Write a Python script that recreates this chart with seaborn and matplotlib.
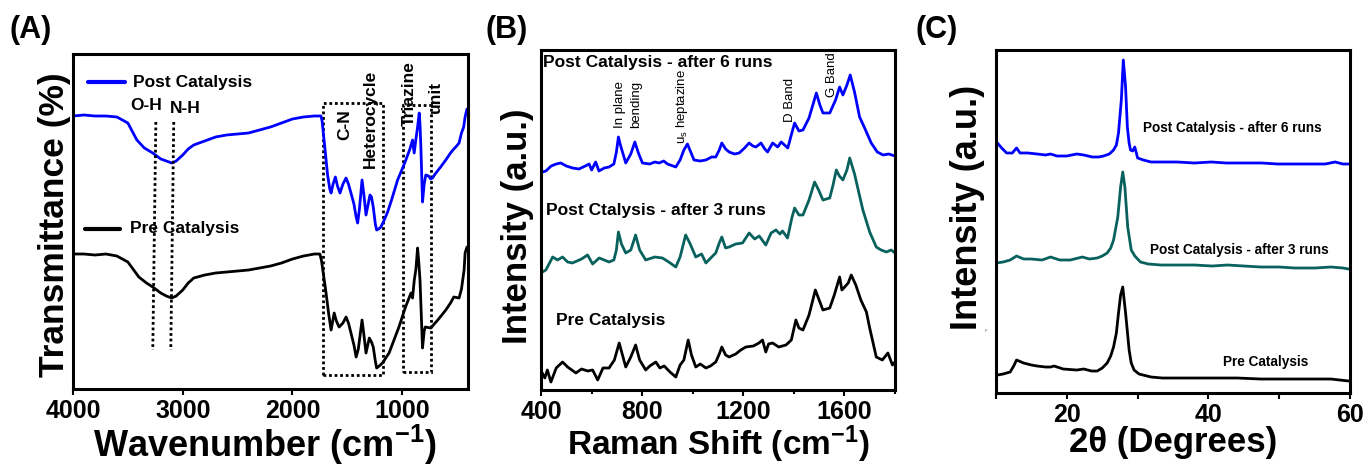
import numpy as np
import pandas as pd
import matplotlib
matplotlib.use("Agg")
import matplotlib.pyplot as plt
import matplotlib.patches as mpatches
import seaborn as sns

# ---------------- DATA ----------------
# Panel A: FTIR (wavenumber, cm-1) - relative transmittance (offset, arbitrary units)
ftir_post_wn = [4000, 3900, 3800, 3700, 3600, 3500, 3418, 3350, 3273, 3200, 3150, 3100, 3060, 3000,
                2950, 2900, 2800, 2700, 2600, 2500, 2400, 2300, 2200, 2100, 2000, 1900, 1800, 1740,
                1730, 1700, 1680, 1660, 1648, 1630, 1609, 1590, 1567, 1540, 1512, 1490, 1467, 1440,
                1420, 1406, 1390, 1366, 1350, 1330, 1310, 1294, 1280, 1264, 1245, 1233, 1215, 1194,
                1160, 1133, 1100, 1042, 1000, 967, 930, 906, 891, 875, 860, 845, 838, 830, 815, 800,
                785, 760, 740, 724, 700, 650, 603, 560, 530, 512, 482, 460, 440, 427, 410]
ftir_post_t = [273, 274, 273, 273, 272, 266, 249, 241, 236, 230, 228, 226, 228, 234,
               240, 244, 248, 252, 254, 255, 256, 259, 262, 266, 270, 272, 273, 273,
               268, 236, 214, 200, 196, 205, 212, 203, 196, 205, 211, 205, 196, 185,
               172, 166, 180, 209, 195, 174, 185, 194, 192, 182, 165, 159, 160, 162,
               170, 177, 188, 209, 220, 229, 240, 249, 236, 250, 262, 276, 265, 242, 187, 205,
               214, 213, 210, 211, 215, 222, 229, 236, 240, 242, 246, 256, 262, 272, 280]
ftir_pre_wn = [4000, 3900, 3800, 3700, 3600, 3500, 3400, 3330, 3273, 3200, 3150, 3100, 3060, 3000,
               2950, 2900, 2800, 2700, 2600, 2500, 2400, 2300, 2200, 2100, 2000, 1900, 1800, 1750,
               1735, 1694, 1670, 1648, 1620, 1600, 1575, 1540, 1512, 1490, 1467, 1440, 1420, 1400,
               1366, 1350, 1330, 1300, 1280, 1264, 1245, 1233, 1210, 1180, 1120, 1030, 970, 920,
               906, 890, 875, 860, 850, 838, 815, 800, 790, 740, 676, 603, 560, 530, 482, 460,
               436, 427, 410]
ftir_pre_t = [135, 135, 134, 135, 133, 127, 112, 106, 102, 96, 93, 91, 93, 99,
              106, 111, 114, 116, 117, 118, 119, 121, 123, 126, 130, 133, 135, 135,
              128, 96, 75, 59, 76, 68, 62, 66, 72, 66, 56, 44, 32, 40,
              69, 55, 36, 51, 47, 42, 28, 21, 23, 26, 36, 62, 82, 96,
              91, 109, 120, 141, 128, 109, 41, 58, 62, 61, 69, 79, 86, 92, 91, 100,
              119, 136, 142]
oh_line_wn = [3245, 3273]
nh_line_wn = [3082, 3109]
peak_line_t = [267, 39]
cn_box_wn = [1724, 1171]
cn_box_t = [14, 286]
triazine_box_wn = [997, 740]
triazine_box_t = [17, 284]

# Panel B: Raman shift (cm-1) - intensity (offset, arbitrary units)
raman_6_x = [405, 419, 440, 460, 478, 500, 524, 550, 575, 590, 600, 616, 629, 650, 669, 688, 698, 706,
             715, 735, 755, 771, 785, 801, 830, 850, 867, 885, 900, 933, 950, 965, 979, 992, 1005,
             1030, 1052, 1075, 1091, 1105, 1115, 1130, 1144, 1165, 1184, 1205, 1223, 1238, 1250,
             1270, 1285, 1296, 1316, 1336, 1350, 1376, 1392, 1403, 1420, 1436, 1460, 1489, 1503,
             1515, 1542, 1565, 1581, 1594, 1610, 1623, 1640, 1660, 1680, 1706, 1730, 1753, 1775, 1800]
raman_6_y = [218, 219, 224, 226, 227, 224, 222, 221, 224, 226, 220, 228, 219, 222, 223, 226, 238, 253,
             244, 227, 236, 248, 237, 227, 226, 228, 227, 229, 226, 223, 230, 240, 246, 238, 230,
             229, 230, 233, 233, 240, 247, 241, 238, 236, 237, 242, 247, 244, 243,
             247, 241, 238, 247, 243, 248, 242, 257, 267, 259, 260, 272, 297, 285,
             277, 277, 290, 303, 295, 305, 315, 298, 273, 262, 247, 238, 235, 236, 234]
raman_3_x = [405, 419, 446, 465, 485, 505, 524, 560, 584, 604, 630, 669, 688, 698, 706, 718, 735,
             755, 774, 790, 814, 850, 880, 905, 933, 950, 962, 972, 990, 1012, 1035, 1052, 1075,
             1091, 1105, 1115, 1130, 1144, 1170, 1197, 1210, 1223, 1245, 1263, 1289, 1310, 1329,
             1345, 1355, 1375, 1392, 1403, 1420, 1436, 1460, 1482, 1498, 1515, 1542, 1555, 1568,
             1580, 1594, 1610, 1621, 1640, 1673, 1700, 1726, 1745, 1766, 1785, 1800]
raman_3_y = [118, 120, 133, 130, 133, 128, 127, 131, 135, 126, 132, 128, 130, 140, 158, 146, 137,
             140, 155, 140, 130, 133, 132, 128, 123, 133, 145, 155, 146, 133, 136, 127, 133,
             137, 147, 153, 142, 143, 146, 147, 152, 157, 151, 154, 145, 157, 160,
             156, 159, 152, 172, 182, 175, 175, 190, 208, 200, 190, 192, 205, 220,
             214, 210, 220, 232, 216, 180, 158, 143, 140, 138, 140, 137]
raman_pre_x = [405, 415, 425, 439, 460, 485, 505, 538, 560, 585, 604, 624, 645, 669, 690, 709, 722,
               735, 755, 774, 790, 814, 830, 854, 870, 887, 910, 933, 950, 965, 982, 995, 1012,
               1030, 1052, 1070, 1091, 1105, 1115, 1130, 1144, 1170, 1190, 1210, 1240, 1262, 1276,
               1289, 1300, 1316, 1340, 1369, 1390, 1408, 1420, 1436, 1460, 1485, 1500, 1515, 1542,
               1560, 1581, 1590, 1601, 1615, 1627, 1645, 1665, 1687, 1700, 1726, 1750, 1772, 1790, 1800]
raman_pre_y = [17, 12, 20, 8, 22, 28, 23, 17, 21, 19, 20, 10, 22, 22, 30, 47, 35,
               23, 33, 45, 30, 20, 24, 28, 22, 24, 18, 13, 25, 30, 50, 35, 23,
               26, 22, 24, 28, 36, 43, 35, 33, 36, 40, 43, 44, 47, 50,
               38, 46, 47, 43, 45, 50, 70, 62, 60, 75, 100, 90, 80, 82,
               95, 113, 100, 103, 107, 115, 105, 90, 78, 62, 33, 30, 37, 25, 28]

# Panel C: XRD 2-theta (degrees) - intensity (offset, arbitrary units)
xrd_6_x = [10.2, 10.8, 11.5, 12.3, 12.9, 13.4, 14.5, 15.8, 17.0, 17.7, 18.6, 20.0, 21.4, 22.4, 23.6,
           24.5, 25.2, 26.0, 26.6, 27.0, 27.3, 27.7, 27.98, 28.3, 28.55, 28.8, 29.0, 29.3, 29.6,
           30.0, 30.8, 31.9, 33.5, 35.6, 38.0, 40.4, 42.5, 45.1, 47.5, 49.8, 52.0, 54.5, 56.5,
           57.9, 59.0, 59.8]
xrd_6_y = [250, 245, 240, 240, 245, 240, 240, 239, 238, 239, 237, 237, 239, 238, 236,
           236, 237, 239, 243, 248, 260, 293, 333, 306, 266, 250, 243, 242, 246,
           235, 233, 231, 231, 231, 230, 231, 230, 230, 230, 229, 229, 229, 229,
           231, 229, 229]
xrd_3_x = [10.0, 11.0, 12.0, 12.9, 13.9, 15.0, 16.5, 17.7, 19.0, 20.5, 22.2, 23.2, 24.3, 25.0, 25.7,
           26.2, 26.6, 27.2, 27.6, 27.9, 28.2, 28.6, 29.1, 29.6, 30.4, 31.5, 33.3, 35.5, 38.0,
           40.5, 42.7, 45.0, 47.4, 50.0, 52.2, 55.0, 57.3, 59.0, 59.8]
xrd_3_y = [130, 131, 133, 137, 134, 134, 133, 136, 133, 133, 136, 134, 135, 137, 140,
           145, 153, 176, 206, 221, 206, 166, 143, 137, 131, 129, 128, 128, 128,
           127, 128, 127, 126, 126, 125, 125, 126, 125, 124]
xrd_pre_x = [10.2, 11.0, 12.0, 12.5, 12.9, 13.9, 15.0, 15.8, 17.0, 17.7, 18.2, 19.5, 21.4, 22.4,
             23.5, 24.3, 25.0, 25.7, 26.2, 26.6, 27.0, 27.3, 27.6, 27.9, 28.3, 28.6, 28.8, 29.1,
             29.5, 30.2, 31.9, 33.5, 35.6, 38.0, 40.4, 42.5, 44.1, 47.4, 50.0, 52.2, 55.0, 57.3, 59.8]
xrd_pre_y = [18, 19, 21, 27, 33, 30, 28, 27, 26, 26, 27, 24, 23, 24,
             22, 22, 25, 30, 37, 46, 60, 80, 98, 106, 80, 58, 43, 30,
             23, 19, 16, 15, 15, 15, 15, 15, 15, 14, 14, 14, 14, 14, 12]

# ---------------- STYLE ----------------
sns.set_theme(style="white")
plt.rcParams["font.family"] = ["Liberation Sans", "DejaVu Sans"]
plt.rcParams["font.weight"] = "bold"
plt.rcParams["axes.labelweight"] = "bold"
plt.rcParams["text.color"] = "black"
plt.rcParams["axes.labelcolor"] = "black"
plt.rcParams["xtick.color"] = "black"
plt.rcParams["mathtext.fontset"] = "custom"
plt.rcParams["mathtext.rm"] = "Liberation Sans:bold"
plt.rcParams["mathtext.bf"] = "Liberation Sans:bold"
plt.rcParams["mathtext.default"] = "bf"

BLUE = "#0000FF"
TEAL = "#08615C"
BLACK = "#000000"
LW = 2.0

fig = plt.figure(figsize=(13.67, 4.65), dpi=100)
axA = fig.add_axes([0.0534, 0.1634, 0.2890, 0.7205])
axB = fig.add_axes([0.3958, 0.1613, 0.2589, 0.7312])
axC = fig.add_axes([0.7286, 0.1548, 0.2590, 0.7377])


def style_axes(ax):
    for s in ax.spines.values():
        s.set_visible(True)
        s.set_color("black")
        s.set_linewidth(2.2)
    ax.set_yticks([])
    ax.tick_params(axis="x", which="both", direction="out", bottom=True, length=4, width=1.5,
                   labelsize=18, pad=3, colors="black")
    ax.tick_params(axis="x", which="minor", length=3)
    for lab in ax.get_xticklabels():
        lab.set_fontweight("bold")


# ---------------- PANEL A ----------------
dfA = pd.concat([
    pd.DataFrame({"wn": ftir_post_wn, "T": ftir_post_t, "s": "Post Catalysis"}),
    pd.DataFrame({"wn": ftir_pre_wn, "T": ftir_pre_t, "s": "Pre Catalysis"}),
])
sns.lineplot(data=dfA, x="wn", y="T", hue="s", palette={"Post Catalysis": BLUE, "Pre Catalysis": BLACK},
             linewidth=LW, ax=axA, legend=False, estimator=None, sort=True)
axA.set_xlim(4000, 400)
axA.set_ylim(0, 335)
axA.set_xticks([4000, 3000, 2000, 1000])
style_axes(axA)
axA.set_xlabel("Wavenumber (cm$^{-1}$)", fontsize=26, fontweight="bold")
axA.set_ylabel("Transmittance (%)", fontsize=25.5, fontweight="bold")
axA.xaxis.set_label_coords(0.486, -0.10)
axA.yaxis.set_label_coords(-0.005, 0.49)

dot = dict(color="black", linestyle=(0, (1, 1)), linewidth=2.0)
axA.plot(oh_line_wn, peak_line_t, **dot)
axA.plot(nh_line_wn, peak_line_t, **dot)
for bx, bt in [(cn_box_wn, cn_box_t), (triazine_box_wn, triazine_box_t)]:
    axA.add_patch(mpatches.Rectangle((bx[0], bt[0]), bx[1] - bx[0], bt[1] - bt[0],
                                     fill=False, edgecolor="black", linestyle=(0, (1, 1)), linewidth=2.0))

# legend-like entries
axA.plot([0.038, 0.132], [0.916, 0.916], color=BLUE, lw=3, transform=axA.transAxes)
axA.text(0.152, 0.916, "Post Catalysis", transform=axA.transAxes, fontsize=12.5, fontweight="bold",
         va="center", ha="left")
axA.plot([0.030, 0.119], [0.478, 0.478], color=BLACK, lw=3, transform=axA.transAxes)
axA.text(0.144, 0.478, "Pre Catalysis", transform=axA.transAxes, fontsize=12.5, fontweight="bold",
         va="center", ha="left")

axA.text(3480, 283, "O-H", fontsize=12.5, fontweight="bold", ha="left", va="center")
axA.text(3116, 280, "N-H", fontsize=12.5, fontweight="bold", ha="left", va="center")
axA.text(1521, 264, "C-N", fontsize=12.5, fontweight="bold", ha="center", va="center", rotation=90)
axA.text(1293, 270, "Heterocycle", fontsize=12.5, fontweight="bold", ha="center", va="center", rotation=90)
axA.text(938, 295, "Triazine", fontsize=12.5, fontweight="bold", ha="center", va="center", rotation=90)
axA.text(701, 292, "unit", fontsize=12.5, fontweight="bold", ha="center", va="center", rotation=90)

# ---------------- PANEL B ----------------
dfB = pd.concat([
    pd.DataFrame({"x": raman_6_x, "y": raman_6_y, "s": "6"}),
    pd.DataFrame({"x": raman_3_x, "y": raman_3_y, "s": "3"}),
    pd.DataFrame({"x": raman_pre_x, "y": raman_pre_y, "s": "pre"}),
])
sns.lineplot(data=dfB, x="x", y="y", hue="s", palette={"6": BLUE, "3": TEAL, "pre": BLACK},
             linewidth=LW, ax=axB, legend=False, estimator=None)
axB.set_xlim(400, 1800)
axB.set_ylim(0, 340)
axB.set_xticks([400, 800, 1200, 1600])
axB.set_xticks([600, 1000, 1400, 1800], minor=True)
style_axes(axB)
axB.set_xlabel("Raman Shift (cm$^{-1}$)", fontsize=24, fontweight="bold")
axB.set_ylabel("Intensity (a.u.)", fontsize=25, fontweight="bold")
axB.xaxis.set_label_coords(0.50, -0.10)
axB.yaxis.set_label_coords(-0.02, 0.482)

axB.text(409, 327, "Post Catalysis - after 6 runs", fontsize=12.5, fontweight="bold", ha="left", va="center")
axB.text(421, 179, "Post Ctalysis - after 3 runs", fontsize=12.5, fontweight="bold", ha="left", va="center")
axB.text(461, 69, "Pre Catalysis", fontsize=12.5, fontweight="bold", ha="left", va="center")
ann = dict(fontsize=9.5, fontweight="normal", rotation=90, ha="center", va="bottom")
axB.text(711, 262, "In plane", **ann)
axB.text(778, 262, "bending", **ann)
axB.text(956, 246, r"$\mathregular{u_s}$ heptazine", **ann)
axB.text(1384, 268, "D Band", **ann)
axB.text(1550, 293, "G Band", **ann)

# ---------------- PANEL C ----------------
dfC = pd.concat([
    pd.DataFrame({"x": xrd_6_x, "y": xrd_6_y, "s": "6"}),
    pd.DataFrame({"x": xrd_3_x, "y": xrd_3_y, "s": "3"}),
    pd.DataFrame({"x": xrd_pre_x, "y": xrd_pre_y, "s": "pre"}),
])
sns.lineplot(data=dfC, x="x", y="y", hue="s", palette={"6": BLUE, "3": TEAL, "pre": BLACK},
             linewidth=LW, ax=axC, legend=False, estimator=None)
axC.set_xlim(10, 60)
axC.set_ylim(0, 343)
axC.set_xticks([20, 40, 60])
axC.set_xticks([10, 30, 50], minor=True)
style_axes(axC)
axC.tick_params(axis="x", which="minor", length=4)
axC.set_xlabel("2θ (Degrees)", fontsize=25, fontweight="bold")
axC.set_ylabel("Intensity (a.u.)", fontsize=26, fontweight="bold")
axC.xaxis.set_label_coords(0.499, -0.095)
axC.yaxis.set_label_coords(-0.031, 0.541)

axC.text(30.8, 265, "Post Catalysis - after 6 runs", fontsize=9.8, fontweight="bold", ha="left", va="center")
axC.text(31.7, 143, "Post Catalysis - after 3 runs", fontsize=9.8, fontweight="bold", ha="left", va="center")
axC.text(42.1, 31, "Pre Catalysis", fontsize=9.8, fontweight="bold", ha="left", va="center")

fig.text(0.7206, 0.286, "F", fontsize=3, fontweight="normal", color="#555555")

# panel labels
for xf, lab in [(0.0073, "(A)"), (0.355, "(B)"), (0.670, "(C)")]:
    fig.text(xf, 0.935, lab, fontsize=22, fontweight="bold", ha="left", va="center")

fig.savefig("out.png", dpi=100)
